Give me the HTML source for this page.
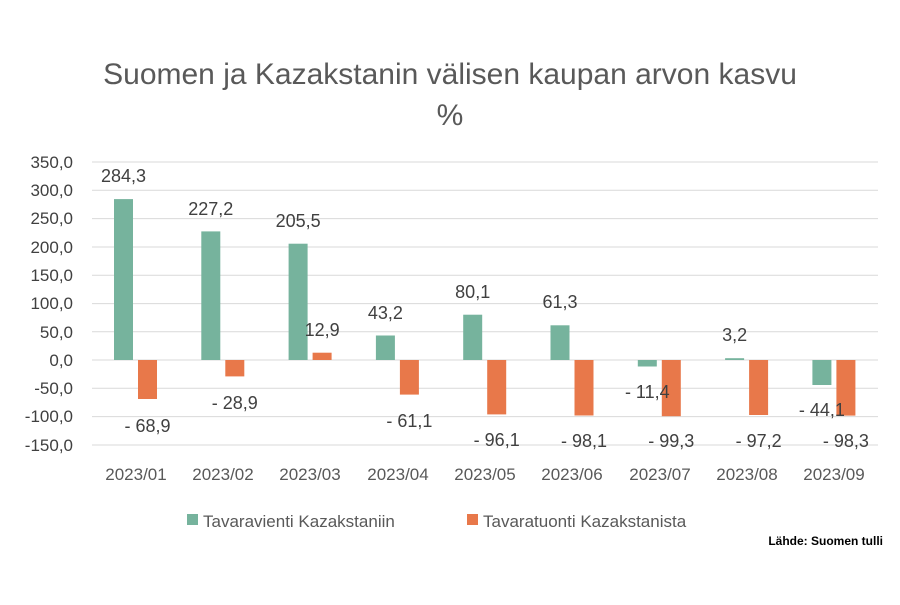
<!DOCTYPE html>
<html><head><meta charset="utf-8"><style>body{margin:0;background:#fff}</style></head><body>
<svg width="900" height="600" xmlns="http://www.w3.org/2000/svg" font-family="Liberation Sans, sans-serif">
<rect width="900" height="600" fill="#fff"/>
<text x="450" y="84" font-size="30" fill="#595959" text-anchor="middle">Suomen ja Kazakstanin välisen kaupan arvon kasvu</text>
<text x="450" y="125" font-size="30" fill="#595959" text-anchor="middle">%</text>
<g stroke="#d9d9d9" stroke-width="1">
<line x1="92" x2="878" y1="162" y2="162"/><line x1="92" x2="878" y1="190.3" y2="190.3"/><line x1="92" x2="878" y1="218.6" y2="218.6"/><line x1="92" x2="878" y1="247" y2="247"/><line x1="92" x2="878" y1="275.3" y2="275.3"/><line x1="92" x2="878" y1="303.6" y2="303.6"/><line x1="92" x2="878" y1="331.7" y2="331.7"/><line x1="92" x2="878" y1="360" y2="360"/><line x1="92" x2="878" y1="388.3" y2="388.3"/><line x1="92" x2="878" y1="416.6" y2="416.6"/><line x1="92" x2="878" y1="445" y2="445"/>
</g>
<g font-size="17" fill="#404040" text-anchor="end">
<text x="73" y="168">350,0</text><text x="73" y="196">300,0</text><text x="73" y="224">250,0</text><text x="73" y="253">200,0</text><text x="73" y="281">150,0</text><text x="73" y="309">100,0</text><text x="73" y="338">50,0</text><text x="73" y="366">0,0</text><text x="73" y="394">-50,0</text><text x="73" y="422">-100,0</text><text x="73" y="451">-150,0</text>
</g>
<g fill="#76b39d">
<rect x="114" y="199.1" width="19" height="160.9"/>
<rect x="201.3" y="231.4" width="19" height="128.6"/>
<rect x="288.6" y="243.7" width="19" height="116.3"/>
<rect x="375.9" y="335.5" width="19" height="24.5"/>
<rect x="463.2" y="314.7" width="19" height="45.3"/>
<rect x="550.5" y="325.3" width="19" height="34.7"/>
<rect x="637.8" y="360" width="19" height="6.5"/>
<rect x="725.1" y="358.2" width="19" height="1.8"/>
<rect x="812.4" y="360" width="19" height="25"/>
</g>
<g fill="#e8784a">
<rect x="138" y="360" width="19" height="39"/>
<rect x="225.3" y="360" width="19" height="16.4"/>
<rect x="312.6" y="352.7" width="19" height="7.3"/>
<rect x="399.9" y="360" width="19" height="34.6"/>
<rect x="487.2" y="360" width="19" height="54.4"/>
<rect x="574.5" y="360" width="19" height="55.5"/>
<rect x="661.8" y="360" width="19" height="56.2"/>
<rect x="749.1" y="360" width="19" height="55"/>
<rect x="836.4" y="360" width="19" height="55.6"/>
</g>
<g font-size="18" fill="#404040" text-anchor="middle">
<text x="123.5" y="182">284,3</text>
<text x="210.8" y="215">227,2</text>
<text x="298.1" y="227">205,5</text>
<text x="385.4" y="319">43,2</text>
<text x="472.7" y="298">80,1</text>
<text x="560" y="308">61,3</text>
<text x="647.3" y="398">- 11,4</text>
<text x="734.6" y="341">3,2</text>
<text x="821.9" y="416">- 44,1</text>
<text x="147.5" y="432">- 68,9</text>
<text x="234.8" y="409">- 28,9</text>
<text x="322.1" y="336">12,9</text>
<text x="409.4" y="427">- 61,1</text>
<text x="496.7" y="446">- 96,1</text>
<text x="584" y="447">- 98,1</text>
<text x="671.3" y="447">- 99,3</text>
<text x="758.6" y="447">- 97,2</text>
<text x="845.9" y="447">- 98,3</text>
</g>
<g font-size="17" fill="#595959" text-anchor="middle">
<text x="136" y="480">2023/01</text><text x="223" y="480">2023/02</text><text x="310" y="480">2023/03</text><text x="398" y="480">2023/04</text><text x="485" y="480">2023/05</text><text x="572" y="480">2023/06</text><text x="660" y="480">2023/07</text><text x="747" y="480">2023/08</text><text x="834" y="480">2023/09</text>
</g>
<rect x="187" y="514" width="11" height="11" fill="#76b39d"/>
<text x="203" y="527" font-size="17" fill="#595959">Tavaravienti Kazakstaniin</text>
<rect x="467" y="514" width="11" height="11" fill="#e8784a"/>
<text x="483" y="527" font-size="17" fill="#595959">Tavaratuonti Kazakstanista</text>
<text x="883" y="545" font-size="12" font-weight="bold" fill="#000" text-anchor="end">Lähde: Suomen tulli</text>
</svg>
</body></html>
